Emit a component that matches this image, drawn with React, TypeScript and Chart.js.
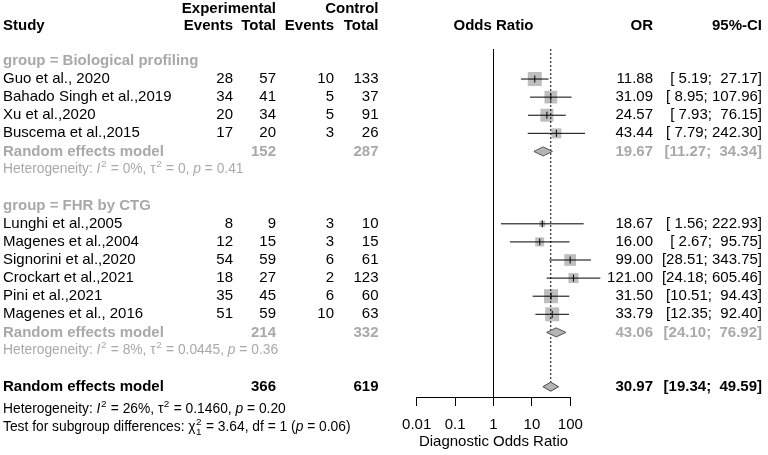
import React, { useEffect, useRef } from "react";
import { Chart, registerables } from "chart.js";

Chart.register(...registerables);

// ---------------- data ----------------
const STUDIES = [
  "Guo et al., 2020",
  "Bahado Singh et al.,2019",
  "Xu et al.,2020",
  "Buscema et al.,2015",
  "Lunghi et al.,2005",
  "Magenes et al.,2004",
  "Signorini et al.,2020",
  "Crockart et al.,2021",
  "Pini et al.,2021",
  "Magenes et al., 2016",
];
const STUDY_GROUP = [0, 0, 0, 0, 1, 1, 1, 1, 1, 1];
const EXP_EVENTS = [28, 34, 20, 17, 8, 12, 54, 18, 35, 51];
const EXP_TOTAL = [57, 41, 34, 20, 9, 15, 59, 27, 45, 59];
const CTRL_EVENTS = [10, 5, 5, 3, 3, 3, 6, 2, 6, 10];
const CTRL_TOTAL = [133, 37, 91, 26, 10, 15, 61, 123, 60, 63];
const OR = [11.88, 31.09, 24.57, 43.44, 18.67, 16.0, 99.0, 121.0, 31.5, 33.79];
const LOWER = [5.19, 8.95, 7.93, 7.79, 1.56, 2.67, 28.51, 24.18, 10.51, 12.35];
const UPPER = [27.17, 107.96, 76.15, 242.3, 222.93, 95.75, 343.75, 605.46, 94.43, 92.4];
const WEIGHTS = [14.3, 11.7, 12.3, 7.3, 2.6, 5.9, 10.0, 7.3, 14.3, 14.3];

const GROUPS = ["Biological profiling", "FHR by CTG"];
const GROUP_OR = [19.67, 43.06];
const GROUP_LOWER = [11.27, 24.1];
const GROUP_UPPER = [34.34, 76.92];
const GROUP_EXP_TOTAL = [152, 214];
const GROUP_CTRL_TOTAL = [287, 332];
const GROUP_I2 = ["0%", "8%"];
const GROUP_TAU2 = ["0", "0.0445"];
const GROUP_P = ["0.41", "0.36"];

const OVERALL_OR = 30.97;
const OVERALL_LOWER = 19.34;
const OVERALL_UPPER = 49.59;
const OVERALL_EXP_TOTAL = 366;
const OVERALL_CTRL_TOTAL = 619;
const OVERALL_I2 = "26%";
const OVERALL_TAU2 = "0.1460";
const OVERALL_P = "0.20";
const TEST_CHI2 = "3.64";
const TEST_DF = "1";
const TEST_P = "0.06";

const X_TICKS = [0.01, 0.1, 1, 10, 100];

// ---------------- layout ----------------
const FAMILY = '"Liberation Sans", Arial, Helvetica, sans-serif';
const FS = 15;
const FS_SMALL = 13.8;
const Y_MIN = 2.34;
const Y_MAX = 21.57;
const GRAY_TXT = "#A9A9A9";
const BOX_K = 3.7;
const DIAMOND_H = 0.25;

const X_STUDY = 3;
const X_EXP_EV = 233;
const X_EXP_TOT = 276;
const X_CTL_EV = 334;
const X_CTL_TOT = 378.5;
const X_OR = 653;
const X_CI = 762;

// rows
type RowInfo = { studyRows: number[]; groupHeader: number[]; groupRE: number[]; groupHet: number[]; overall: number; overallHet: number; test: number };
function buildRows(): RowInfo {
  const studyRows: number[] = new Array(STUDIES.length).fill(0);
  const groupHeader: number[] = [];
  const groupRE: number[] = [];
  const groupHet: number[] = [];
  let cur = 3;
  GROUPS.forEach((_, g) => {
    groupHeader.push(cur);
    cur++;
    STUDIES.forEach((_, i) => {
      if (STUDY_GROUP[i] === g) {
        studyRows[i] = cur;
        cur++;
      }
    });
    groupRE.push(cur);
    groupHet.push(cur + 1);
    cur += 3;
  });
  return { studyRows, groupHeader, groupRE, groupHet, overall: cur, overallHet: cur + 1.25, test: cur + 2.25 };
}

const fmt2 = (v: number) => v.toFixed(2);
const pad = (s: string, n: number) => (s.length >= n ? s : " ".repeat(n - s.length) + s);
const ciText = (lo: number, hi: number) => `[${pad(fmt2(lo), 5)}; ${pad(fmt2(hi), 6)}]`;

type Seg = { t: string; it?: boolean; sup?: string; sub?: string };

function drawRich(ctx: CanvasRenderingContext2D, segs: Seg[], x: number, y: number, size: number, color: string) {
  let cx = x;
  ctx.fillStyle = color;
  ctx.textAlign = "left";
  ctx.textBaseline = "middle";
  for (const s of segs) {
    ctx.font = `${s.it ? "italic " : ""}${size}px ${FAMILY}`;
    ctx.fillText(s.t, cx, y);
    cx += ctx.measureText(s.t).width;
    if (s.sup || s.sub) {
      const small = size * 0.72;
      ctx.font = `${small}px ${FAMILY}`;
      let w = 0;
      if (s.sup) {
        ctx.fillText(s.sup, cx + 0.5, y - size * 0.4);
        w = Math.max(w, ctx.measureText(s.sup).width);
      }
      if (s.sub) {
        ctx.fillText(s.sub, cx + 0.5, y + size * 0.32);
        w = Math.max(w, ctx.measureText(s.sub).width);
      }
      cx += w + 1;
    }
  }
}

function hetSegs(i2: string, tau2: string, p: string): Seg[] {
  return [
    { t: "Heterogeneity: " },
    { t: "I", it: true, sup: "2" },
    { t: ` = ${i2}, τ`, sup: "2" },
    { t: ` = ${tau2}, ` },
    { t: "p", it: true },
    { t: ` = ${p}` },
  ];
}

export default function App() {
  const ref = useRef<HTMLCanvasElement | null>(null);

  useEffect(() => {
    if (!ref.current) return;
    const rows = buildRows();

    const datasets: any[] = [];

    // squares
    datasets.push({
      label: "boxes",
      data: STUDIES.map((_, i) => ({ x: OR[i], y: rows.studyRows[i] })),
      pointStyle: "rect",
      pointRadius: WEIGHTS.map((w) => (BOX_K * Math.sqrt(w)) / Math.SQRT2),
      backgroundColor: "#BEBEBE",
      borderWidth: 0,
      showLine: false,
      order: 10,
      clip: false,
    });

    // CI lines
    STUDIES.forEach((_, i) => {
      datasets.push({
        label: "ci" + i,
        data: [
          { x: LOWER[i], y: rows.studyRows[i] },
          { x: UPPER[i], y: rows.studyRows[i] },
        ],
        showLine: true,
        borderColor: "#000",
        borderWidth: 1,
        pointRadius: 0,
        order: 2,
        clip: false,
      });
    });

    // point ticks
    datasets.push({
      label: "est",
      data: STUDIES.map((_, i) => ({ x: OR[i], y: rows.studyRows[i] })),
      pointStyle: "line",
      pointRotation: 90,
      pointRadius: 3.5,
      borderColor: "#000",
      borderWidth: 1,
      showLine: false,
      order: 1,
      clip: false,
    });

    // diamonds
    const diamond = (o: number, lo: number, hi: number, row: number, border: string) => ({
      label: "diamond",
      data: [
        { x: lo, y: row },
        { x: o, y: row - DIAMOND_H },
        { x: hi, y: row },
        { x: o, y: row + DIAMOND_H },
        { x: lo, y: row },
      ],
      showLine: true,
      fill: "shape",
      backgroundColor: "#B4B4B4",
      borderColor: border,
      borderWidth: 1,
      pointRadius: 0,
      tension: 0,
      order: 0,
      clip: false,
    });
    GROUPS.forEach((_, g) => {
      datasets.push(diamond(GROUP_OR[g], GROUP_LOWER[g], GROUP_UPPER[g], rows.groupRE[g], "#555"));
    });
    datasets.push(diamond(OVERALL_OR, OVERALL_LOWER, OVERALL_UPPER, rows.overall, "#444"));

    // reference lines
    datasets.push({
      label: "null",
      data: [
        { x: 1, y: Y_MIN },
        { x: 1, y: Y_MAX },
      ],
      showLine: true,
      borderColor: "#000",
      borderWidth: 1,
      pointRadius: 0,
      order: 5,
      clip: false,
    });
    datasets.push({
      label: "overall",
      data: [
        { x: OVERALL_OR, y: Y_MIN },
        { x: OVERALL_OR, y: rows.overall - DIAMOND_H },
      ],
      showLine: true,
      borderColor: "#000",
      borderWidth: 1,
      borderDash: [2, 2],
      pointRadius: 0,
      order: 5,
      clip: false,
    });

    const textPlugin = {
      id: "forestText",
      afterDraw(chart: any) {
        const ctx: CanvasRenderingContext2D = chart.ctx;
        const ys = chart.scales.y;
        const py = (r: number) => ys.getPixelForValue(r);
        const ca = chart.chartArea;
        ctx.save();
        ctx.textBaseline = "middle";
        const txt = (s: string, x: number, y: number, align: CanvasTextAlign, bold: boolean, color: string, size = FS) => {
          ctx.font = `${bold ? "bold " : ""}${size}px ${FAMILY}`;
          ctx.fillStyle = color;
          ctx.textAlign = align;
          ctx.fillText(s, x, y);
        };
        // header
        const h0 = py(0) + 2;
        const h1 = py(1) + 1.5;
        txt("Experimental", X_EXP_TOT, h0, "right", true, "#000");
        txt("Control", X_CTL_TOT, h0, "right", true, "#000");
        txt("Study", X_STUDY, h1, "left", true, "#000");
        txt("Events", X_EXP_EV, h1, "right", true, "#000");
        txt("Total", X_EXP_TOT, h1, "right", true, "#000");
        txt("Events", X_CTL_EV, h1, "right", true, "#000");
        txt("Total", X_CTL_TOT, h1, "right", true, "#000");
        txt("Odds Ratio", (ca.left + ca.right) / 2, h1, "center", true, "#000");
        txt("OR", X_OR, h1, "right", true, "#000");
        txt("95%-CI", X_CI, h1, "right", true, "#000");

        // studies
        STUDIES.forEach((s, i) => {
          const y = py(rows.studyRows[i]);
          txt(s, X_STUDY, y, "left", false, "#000");
          txt(String(EXP_EVENTS[i]), X_EXP_EV, y, "right", false, "#000");
          txt(String(EXP_TOTAL[i]), X_EXP_TOT, y, "right", false, "#000");
          txt(String(CTRL_EVENTS[i]), X_CTL_EV, y, "right", false, "#000");
          txt(String(CTRL_TOTAL[i]), X_CTL_TOT, y, "right", false, "#000");
          txt(fmt2(OR[i]), X_OR, y, "right", false, "#000");
          txt(ciText(LOWER[i], UPPER[i]), X_CI, y, "right", false, "#000");
        });

        // groups
        GROUPS.forEach((g, k) => {
          txt(`group = ${g}`, X_STUDY, py(rows.groupHeader[k]), "left", true, GRAY_TXT);
          const yr = py(rows.groupRE[k]);
          txt("Random effects model", X_STUDY, yr, "left", true, GRAY_TXT);
          txt(String(GROUP_EXP_TOTAL[k]), X_EXP_TOT, yr, "right", true, GRAY_TXT);
          txt(String(GROUP_CTRL_TOTAL[k]), X_CTL_TOT, yr, "right", true, GRAY_TXT);
          txt(fmt2(GROUP_OR[k]), X_OR, yr, "right", true, GRAY_TXT);
          txt(ciText(GROUP_LOWER[k], GROUP_UPPER[k]), X_CI, yr, "right", true, GRAY_TXT);
          drawRich(ctx, hetSegs(GROUP_I2[k], GROUP_TAU2[k], GROUP_P[k]), X_STUDY, py(rows.groupHet[k]), FS_SMALL, GRAY_TXT);
        });

        // overall
        const yo = py(rows.overall);
        txt("Random effects model", X_STUDY, yo, "left", true, "#000");
        txt(String(OVERALL_EXP_TOTAL), X_EXP_TOT, yo, "right", true, "#000");
        txt(String(OVERALL_CTRL_TOTAL), X_CTL_TOT, yo, "right", true, "#000");
        txt(fmt2(OVERALL_OR), X_OR, yo, "right", true, "#000");
        txt(ciText(OVERALL_LOWER, OVERALL_UPPER), X_CI, yo, "right", true, "#000");
        drawRich(ctx, hetSegs(OVERALL_I2, OVERALL_TAU2, OVERALL_P), X_STUDY, py(rows.overallHet), FS_SMALL, "#000");
        drawRich(
          ctx,
          [
            { t: "Test for subgroup differences: " },
            { t: "χ", sup: "2", sub: TEST_DF },
            { t: ` = ${TEST_CHI2}, df = ${TEST_DF} (` },
            { t: "p", it: true },
            { t: ` = ${TEST_P})` },
          ],
          X_STUDY,
          py(rows.test),
          FS_SMALL,
          "#000"
        );
        ctx.restore();
      },
    };

    const chart = new Chart(ref.current, {
      type: "scatter",
      data: { datasets },
      options: {
        animation: false,
        responsive: false,
        maintainAspectRatio: false,
        devicePixelRatio: 1,
        events: [],
        layout: { autoPadding: false, padding: { left: 416.7, right: 197.7, top: 49, bottom: 0 } },
        plugins: { legend: { display: false }, tooltip: { enabled: false }, title: { display: false } },
        scales: {
          x: {
            type: "logarithmic",
            min: 0.01,
            max: 100,
            position: "bottom",
            afterBuildTicks: (s: any) => {
              s.ticks = X_TICKS.map((v) => ({ value: v }));
            },
            afterFit: (s: any) => {
              s.height = 58;
            },
            ticks: {
              autoSkip: false,
              maxRotation: 0,
              minRotation: 0,
              padding: 10,
              color: "#000",
              font: { size: FS, family: FAMILY },
              callback: (v: any) => String(v),
            },
            grid: { display: true, drawOnChartArea: false, drawTicks: true, tickLength: 9, color: "#000", lineWidth: 1 },
            border: { display: true, color: "#000", width: 1 },
            title: {
              display: true,
              text: "Diagnostic Odds Ratio",
              color: "#000",
              font: { size: FS, family: FAMILY },
              padding: { top: 0, bottom: 4 },
            },
          },
          y: { type: "linear", display: false, min: Y_MIN, max: Y_MAX, reverse: true },
        },
      } as any,
      plugins: [textPlugin],
    });
    return () => chart.destroy();
  }, []);

  return (
    <canvas
      ref={ref}
      width={768}
      height={455}
      style={{ position: "absolute", left: 0, top: 0, width: 768, height: 455, display: "block" }}
    />
  );
}
